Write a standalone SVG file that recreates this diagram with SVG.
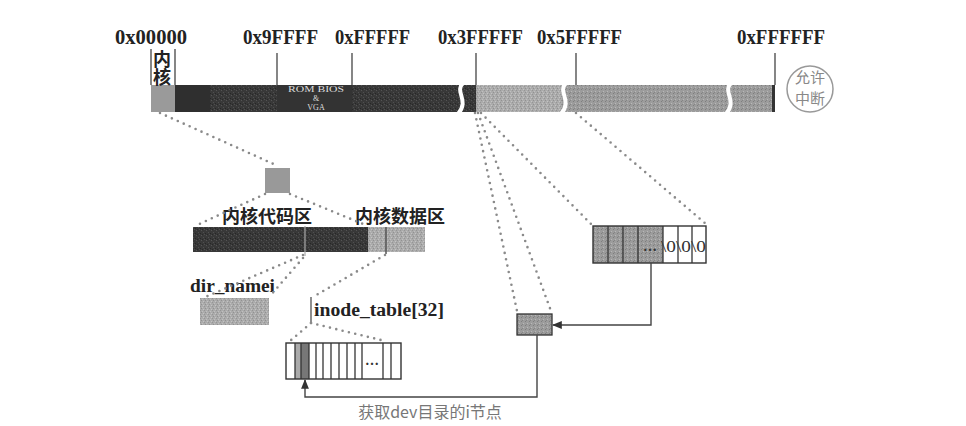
<svg xmlns="http://www.w3.org/2000/svg" width="966" height="426" viewBox="0 0 966 426">
<defs>
<pattern id="grainDark" width="5" height="5" patternUnits="userSpaceOnUse">
<rect width="5" height="5" fill="#383838"/>
<rect x="1" y="0" width="1" height="1" fill="#545454"/>
<rect x="3" y="2" width="1" height="1" fill="#505050"/>
<rect x="0" y="3" width="1" height="1" fill="#262626"/>
<rect x="4" y="4" width="1" height="1" fill="#4f4f4f"/>
<rect x="2" y="4" width="1" height="1" fill="#282828"/>
</pattern>
<pattern id="grainLight" width="4" height="4" patternUnits="userSpaceOnUse">
<rect width="4" height="4" fill="#ababab"/>
<rect x="1" y="0" width="1" height="1" fill="#919191"/>
<rect x="3" y="1" width="1" height="1" fill="#c4c4c4"/>
<rect x="0" y="2" width="1" height="1" fill="#959595"/>
<rect x="2" y="3" width="1" height="1" fill="#c0c0c0"/>
</pattern>
<pattern id="grainMid" width="4" height="4" patternUnits="userSpaceOnUse">
<rect width="4" height="4" fill="#9c9c9c"/>
<rect x="1" y="1" width="1" height="1" fill="#7e7e7e"/>
<rect x="3" y="3" width="1" height="1" fill="#b8b8b8"/>
<rect x="2" y="0" width="1" height="1" fill="#858585"/>
</pattern>
<marker id="arrowUp" viewBox="0 0 10 10" refX="9" refY="5" markerWidth="7" markerHeight="7" orient="auto-start-reverse">
<path d="M0,1 L10,5 L0,9 z" fill="#333"/>
</marker>
<style>
.hex{font-family:"Liberation Serif",serif;font-weight:bold;font-size:20px;fill:#222}
.cjk{font-family:"Noto Sans CJK SC",sans-serif;font-weight:bold;font-size:18px;fill:#222}
.lbl{font-family:"Liberation Serif",serif;font-weight:bold;font-size:18px;fill:#222}
.tick{stroke:#444;stroke-width:1.3}
.dot{fill:none;stroke:#8a8a8a;stroke-width:2.6;stroke-linecap:round;stroke-dasharray:0 6.5}
.cellline{stroke:#333;stroke-width:1.3}
.conn{fill:none;stroke:#444;stroke-width:1.4}
.brk{fill:none;stroke:#fff;stroke-width:4}
.rom{font-family:"Liberation Serif",serif;font-size:8px;fill:#ddd;text-anchor:middle}
</style>
</defs>
<rect width="966" height="426" fill="#fff"/>

<g id="memory-bar">
<rect x="151" y="85" width="24" height="27" fill="#9a9a9a"/>
<rect x="175" y="85" width="35" height="27" fill="#2f2f2f"/>
<rect x="210" y="85" width="67" height="27" fill="url(#grainDark)"/>
<rect x="277" y="85" width="75" height="27" fill="#333"/>
<rect x="352" y="85" width="124" height="27" fill="url(#grainDark)"/>
<rect x="476" y="85" width="86" height="27" fill="url(#grainLight)"/>
<rect x="562" y="85" width="211" height="27" fill="url(#grainMid)"/>
<rect x="772" y="85" width="3" height="27" fill="#333"/>
<path class="brk" d="M463,83 C454,92 470,100 458,114"/>
<path class="brk" d="M566,83 C557,92 573,100 561,114"/>
<path class="brk" d="M731,83 C722,92 738,100 726,114"/>
<text class="rom" x="316" y="92" textLength="56" lengthAdjust="spacingAndGlyphs">ROM BIOS</text>
<text class="rom" x="316" y="101">&amp;</text>
<text class="rom" x="316" y="110">VGA</text>
</g>

<g id="ticks">
<line class="tick" x1="151" y1="49" x2="151" y2="85"/>
<line class="tick" x1="175" y1="49" x2="175" y2="85"/>
<line class="tick" x1="277" y1="53" x2="277" y2="85"/>
<line class="tick" x1="352" y1="53" x2="352" y2="85"/>
<line class="tick" x1="476" y1="53" x2="476" y2="85"/>
<line class="tick" x1="576" y1="53" x2="576" y2="85"/>
<line class="tick" x1="775" y1="53" x2="775" y2="85"/>
<text class="hex" x="115" y="44" textLength="72" lengthAdjust="spacingAndGlyphs">0x00000</text>
<text class="hex" x="243" y="44" textLength="75" lengthAdjust="spacingAndGlyphs">0x9FFFF</text>
<text class="hex" x="335" y="44" textLength="75" lengthAdjust="spacingAndGlyphs">0xFFFFF</text>
<text class="hex" x="438" y="44" textLength="85" lengthAdjust="spacingAndGlyphs">0x3FFFFF</text>
<text class="hex" x="537" y="44" textLength="85" lengthAdjust="spacingAndGlyphs">0x5FFFFF</text>
<text class="hex" x="737" y="44" textLength="88" lengthAdjust="spacingAndGlyphs">0xFFFFFF</text>
<text class="cjk" x="162" y="50" font-size="17" writing-mode="vertical-rl">内核</text>
</g>

<g id="interrupt">
<circle cx="810" cy="89" r="23" fill="#fff" stroke="#999" stroke-width="1.5"/>
<text x="810" y="83" font-family="Noto Sans CJK SC,sans-serif" font-size="15" fill="#888" text-anchor="middle">允许</text>
<text x="810" y="104" font-family="Noto Sans CJK SC,sans-serif" font-size="15" fill="#888" text-anchor="middle">中断</text>
</g>

<g id="kernel-block">
<rect x="265" y="168" width="25" height="25" fill="#999"/>
</g>

<g id="kernel-bar">
<rect x="193" y="227" width="175" height="25" fill="url(#grainDark)"/>
<rect x="368" y="227" width="57" height="25" fill="url(#grainLight)"/>
<line x1="305" y1="226" x2="305" y2="256" stroke="#aaa" stroke-width="1.2"/>
<line x1="386" y1="227" x2="386" y2="254" stroke="#555" stroke-width="1.5"/>
<text class="cjk" x="222" y="223" font-size="19">内核代码区</text>
<text class="cjk" x="355" y="223" font-size="18.5">内核数据区</text>
</g>

<g id="dir-namei">
<text class="lbl" x="190" y="292" textLength="85" lengthAdjust="spacingAndGlyphs">dir_namei</text>
<rect x="200" y="298" width="69" height="27" fill="url(#grainLight)"/>
</g>

<g id="inode-table">
<line x1="311" y1="297" x2="311" y2="322" stroke="#444" stroke-width="1.2"/>
<text class="lbl" x="314" y="316" textLength="130" lengthAdjust="spacingAndGlyphs">inode_table[32]</text>
<rect x="295" y="343" width="6" height="36" fill="#aaa"/>
<rect x="301" y="343" width="8" height="36" fill="#777"/>
<rect x="286" y="343" width="115" height="36" fill="none" stroke="#333" stroke-width="1.4"/>
<line class="cellline" x1="295" y1="343" x2="295" y2="379"/>
<line class="cellline" x1="301" y1="343" x2="301" y2="379"/>
<line class="cellline" x1="309" y1="343" x2="309" y2="379"/>
<line class="cellline" x1="316" y1="343" x2="316" y2="379"/>
<line class="cellline" x1="323" y1="343" x2="323" y2="379"/>
<line class="cellline" x1="331" y1="343" x2="331" y2="379"/>
<line class="cellline" x1="339" y1="343" x2="339" y2="379"/>
<line class="cellline" x1="347" y1="343" x2="347" y2="379"/>
<line class="cellline" x1="355" y1="343" x2="355" y2="379"/>
<line class="cellline" x1="362" y1="343" x2="362" y2="379"/>
<line class="cellline" x1="383" y1="343" x2="383" y2="379"/>
<line class="cellline" x1="391" y1="343" x2="391" y2="379"/>
<text x="372" y="365" font-family="Liberation Serif,serif" font-size="14" font-weight="bold" fill="#333" text-anchor="middle">…</text>
</g>

<g id="inode-box">
<rect x="517" y="314" width="35" height="21" fill="url(#grainMid)" stroke="#333" stroke-width="1.3"/>
</g>

<g id="buffer-array">
<rect x="593" y="226" width="70" height="37" fill="url(#grainMid)"/>
<rect x="593" y="226" width="113" height="37" fill="none" stroke="#333" stroke-width="1.4"/>
<line class="cellline" x1="608" y1="226" x2="608" y2="263"/>
<line class="cellline" x1="623" y1="226" x2="623" y2="263"/>
<line class="cellline" x1="638" y1="226" x2="638" y2="263"/>
<line class="cellline" x1="663" y1="226" x2="663" y2="263"/>
<line class="cellline" x1="678" y1="226" x2="678" y2="263"/>
<line class="cellline" x1="692" y1="226" x2="692" y2="263"/>
<text x="650" y="251" font-family="Liberation Serif,serif" font-size="14" font-weight="bold" fill="#333" text-anchor="middle">…</text>
<text x="661" y="252" font-family="Liberation Serif,serif" font-size="17" fill="#333" textLength="45" lengthAdjust="spacingAndGlyphs">\0\0\0</text>
</g>

<g id="connectors">
<line class="dot" x1="160" y1="113" x2="278" y2="166"/>
<line class="dot" x1="265" y1="194" x2="195" y2="226"/>
<line class="dot" x1="290" y1="194" x2="368" y2="226"/>
<line class="dot" x1="303" y1="255" x2="203" y2="298"/>
<line class="dot" x1="303" y1="258" x2="270" y2="296"/>
<line class="dot" x1="385" y1="255" x2="313" y2="297"/>
<line class="dot" x1="311" y1="323" x2="290" y2="341"/>
<line class="dot" x1="311" y1="323" x2="385" y2="341"/>
<line class="dot" x1="475" y1="113" x2="517" y2="311"/>
<line class="dot" x1="478" y1="113" x2="551" y2="311"/>
<line class="dot" x1="481" y1="113" x2="591" y2="224"/>
<line class="dot" x1="576" y1="113" x2="706" y2="224"/>
<polyline class="conn" points="651,263 651,325 553,325" marker-end="url(#arrowUp)"/>
<polyline class="conn" points="537,335 537,397 305,397 305,380" marker-end="url(#arrowUp)"/>
<text x="430" y="418" font-family="Noto Sans CJK SC,sans-serif" font-size="16" fill="#777" text-anchor="middle">获取dev目录的i节点</text>
</g>
</svg>
